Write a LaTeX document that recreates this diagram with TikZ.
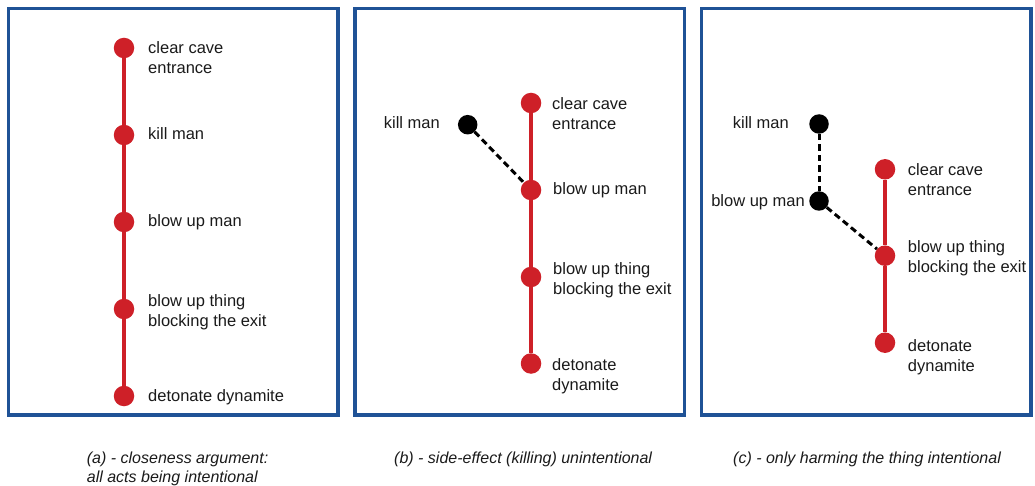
\documentclass[tikz,border=0pt]{standalone}
\usepackage{fontspec}
\setmainfont{Liberation Sans}
\definecolor{frameblue}{RGB}{31,82,150}
\definecolor{actred}{RGB}{206,32,40}
\definecolor{ink}{RGB}{26,26,26}
\begin{document}
\begin{tikzpicture}[x=1pt,y=-1pt,
  panel/.style={draw=frameblue,line width=3.2pt},
  actdot/.style={circle,fill=actred,minimum size=20.5pt,inner sep=0pt},
  sidedot/.style={circle,fill=black,minimum size=19.5pt,inner sep=0pt},
  chain/.style={draw=actred,line width=4pt},
  sidelink/.style={draw=black,line width=3pt,dash pattern=on 6.5pt off 4pt},
  lbl/.style={inner sep=0pt,text=ink,align=left,font=\fontsize{16.5}{20}\selectfont},
  captext/.style={inner sep=0pt,text=ink,align=left,font=\fontsize{16}{19.5}\selectfont\itshape}]
\useasboundingbox (0,0) rectangle (1035,486);

% frames
\draw[panel] (8.5,8.5) rectangle (338,415);
\draw[panel] (355,8.5) rectangle (684.5,415);
\draw[panel] (701.5,8.5) rectangle (1031,415);

% (a) every act intentional
% (two-line labels are placed by the baseline of their last line)
\node[actdot] (a1) at (124,48) {};
\node[actdot] (a2) at (124,135) {};
\node[actdot] (a3) at (124,222) {};
\node[actdot] (a4) at (124,309) {};
\node[actdot] (a5) at (124,396) {};
\draw[chain] (a1) -- (a2) -- (a3) -- (a4) -- (a5);
\node[lbl,anchor=base west] (a1t) at (148,74) {clear cave\\entrance};
\node[lbl,anchor=base west] (a2t) at (148,140) {kill man};
\node[lbl,anchor=base west] (a3t) at (148,227) {blow up man};
\node[lbl,anchor=base west] (a4t) at (148,326) {blow up thing\\blocking the exit};
\node[lbl,anchor=base west] (a5t) at (148,401) {detonate dynamite};

% (b) killing as a side effect
\node[actdot] (b1) at (531,103) {};
\node[actdot] (b2) at (531,190) {};
\node[actdot] (b3) at (531,277) {};
\node[actdot] (b4) at (531,363.5) {};
\node[sidedot] (bk) at (467.7,124.7) {};
\draw[chain] (b1) -- (b2) -- (b3) -- (b4);
\draw[sidelink] (bk) -- (b2);
\node[lbl,anchor=base west] (b1t) at (552,129.5) {clear cave\\entrance};
\node[lbl,anchor=base west] (b2t) at (553,195) {blow up man};
\node[lbl,anchor=base west] (b3t) at (553,294) {blow up thing\\blocking the exit};
\node[lbl,anchor=base west] (b4t) at (552,390.7) {detonate\\dynamite};
\node[lbl,anchor=base east] (bkt) at (440,128.5) {kill man};

% (c) only harming the thing intentional
\node[actdot] (c1) at (885,169.3) {};
\node[actdot] (c2) at (885,255.7) {};
\node[actdot] (c3) at (885,342.7) {};
\node[sidedot] (ck) at (819,124) {};
\node[sidedot] (cm) at (819,201) {};
\draw[chain] (c1) -- (c2) -- (c3);
\draw[sidelink] (ck) -- (cm);
\draw[sidelink] (cm) -- (c2);
\node[lbl,anchor=base west] (c1t) at (907.7,195.7) {clear cave\\entrance};
\node[lbl,anchor=base west] (c2t) at (907.7,272.5) {blow up thing\\blocking the exit};
\node[lbl,anchor=base west] (c3t) at (907.7,371) {detonate\\dynamite};
\node[lbl,anchor=base east] (ckt) at (789,128.3) {kill man};
\node[lbl,anchor=base east] (cmt) at (805,206.7) {blow up man};

% captions
\node[captext,anchor=base west] (capa) at (86.7,482.8) {(a) - closeness argument:\\all acts being intentional};
\node[captext,anchor=base west] (capb) at (394,463.3) {(b) - side-effect (killing) unintentional};
\node[captext,anchor=base west] (capc) at (733,463.3) {(c) - only harming the thing intentional};
\end{tikzpicture}
\end{document}
